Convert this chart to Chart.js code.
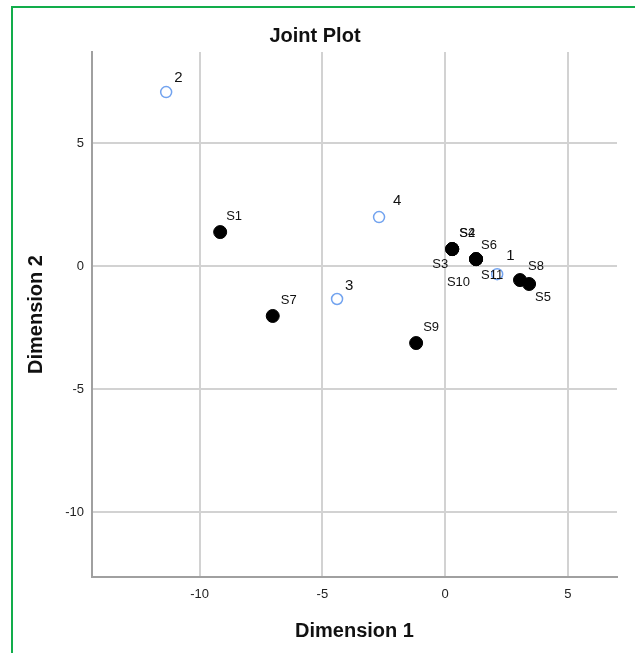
<!DOCTYPE html>
<html>
<head>
<meta charset="utf-8">
<script src="https://cdn.jsdelivr.net/npm/chart.js@4.4.1/dist/chart.umd.min.js"></script>
<style>
  body { margin: 0; background: #fff; }
  #frame { position: absolute; left: 11px; top: 6px; width: 700px; height: 700px; border: 2px solid #12ad4b; }
  #wrap { position: absolute; left: 0; top: 0; width: 635px; height: 653px; }
</style>
</head>
<body>
<div id="frame"></div>
<div id="wrap"><canvas id="joint" width="635" height="653"></canvas></div>
<script>
// subjects (filled black dots)
const subjectLabels = ['S1', 'S2', 'S3', 'S4', 'S5', 'S6', 'S7', 'S8', 'S9', 'S10', 'S11'];
const subjectDim1 = [-9.16, 0.29, 0.29, 0.29, 3.42, 1.26, -7.02, 3.05, -1.18, 1.26, 1.26];
const subjectDim2 = [1.38, 0.69, 0.69, 0.69, -0.73, 0.28, -2.03, -0.57, -3.13, 0.28, 0.28];

// objects (open blue circles)
const objectLabels = ['1', '2', '3', '4'];
const objectDim1 = [2.12, -11.36, -4.40, -2.69];
const objectDim2 = [-0.33, 7.07, -1.34, 1.99];

const xTicks = [-10, -5, 0, 5];
const yTicks = [-10, -5, 0, 5];

// where each label sits relative to its point (px), and which side it is anchored on
const labelPlacement = {
  S1: [6, -16, 'left'], S2: [7, -16, 'left'], S3: [-4, 15, 'right'], S4: [7, -16, 'left'],
  S5: [6, 13, 'left'], S6: [5, -14, 'left'], S7: [8, -16, 'left'], S8: [8, -14, 'left'],
  S9: [7, -16, 'left'], S10: [-6, 23, 'right'], S11: [5, 16, 'left'],
  '1': [9, -18, 'left'], '2': [8, -14, 'left'], '3': [8, -13, 'left'], '4': [14, -16, 'left']
};

const FONT = "'Liberation Sans', Arial, sans-serif";

const pointLabels = {
  id: 'pointLabels',
  afterDatasetsDraw(chart) {
    const ctx = chart.ctx;
    ctx.save();
    ctx.fillStyle = '#111';
    ctx.textBaseline = 'middle';
    chart.data.datasets.forEach((ds, i) => {
      const meta = chart.getDatasetMeta(i);
      ctx.font = (i === 0 ? '13px ' : '15px ') + FONT;
      meta.data.forEach((pt, j) => {
        const name = ds.names[j];
        const p = labelPlacement[name] || [6, -14, 'left'];
        ctx.textAlign = p[2];
        ctx.fillText(name, pt.x + p[0], pt.y + p[1]);
      });
    });
    ctx.restore();
  }
};

new Chart(document.getElementById('joint'), {
  type: 'scatter',
  data: {
    datasets: [
      {
        label: 'Subjects',
        names: subjectLabels,
        data: subjectDim1.map((v, i) => ({ x: v, y: subjectDim2[i] })),
        backgroundColor: '#000',
        borderColor: '#000',
        pointRadius: 6.5,
        pointHoverRadius: 6.5
      },
      {
        label: 'Objects',
        names: objectLabels,
        data: objectDim1.map((v, i) => ({ x: v, y: objectDim2[i] })),
        backgroundColor: '#fff',
        borderColor: '#72a3ef',
        borderWidth: 1.5,
        pointRadius: 5.5,
        pointHoverRadius: 5.5
      }
    ]
  },
  options: {
    responsive: false,
    animation: false,
    layout: { padding: { left: 13, right: 18, top: 0, bottom: 0 } },
    plugins: {
      legend: { display: false },
      tooltip: { enabled: false },
      title: {
        display: true,
        text: 'Joint Plot',
        color: '#111',
        font: { family: FONT, size: 20, weight: 'bold' },
        padding: { top: 24, bottom: 4 }
      }
    },
    scales: {
      x: {
        type: 'linear',
        min: -14.38,
        max: 7.0,
        afterBuildTicks: s => { s.ticks = xTicks.map(v => ({ value: v })); },
        afterFit: s => { s.height = 76; },
        grid: { color: '#d2d2d2', lineWidth: 2, drawTicks: false },
        border: { color: '#a0a0a0', width: 2 },
        ticks: { color: '#222', padding: 10, font: { family: FONT, size: 13 } },
        title: {
          display: true,
          text: 'Dimension 1',
          color: '#111',
          font: { family: FONT, size: 20, weight: 'bold' },
          padding: { top: 0, bottom: 10 }
        }
      },
      y: {
        type: 'linear',
        min: -12.64,
        max: 8.7,
        afterBuildTicks: s => { s.ticks = yTicks.map(v => ({ value: v })); },
        afterFit: s => { s.width = 79; },
        grid: { color: '#d2d2d2', lineWidth: 2, drawTicks: false },
        border: { color: '#a0a0a0', width: 2 },
        ticks: { color: '#222', padding: 8, font: { family: FONT, size: 13 } },
        title: {
          display: true,
          text: 'Dimension 2',
          color: '#111',
          font: { family: FONT, size: 20, weight: 'bold' },
          padding: { top: 11, bottom: 0 }
        }
      }
    }
  },
  plugins: [pointLabels]
});
</script>
</body>
</html>
